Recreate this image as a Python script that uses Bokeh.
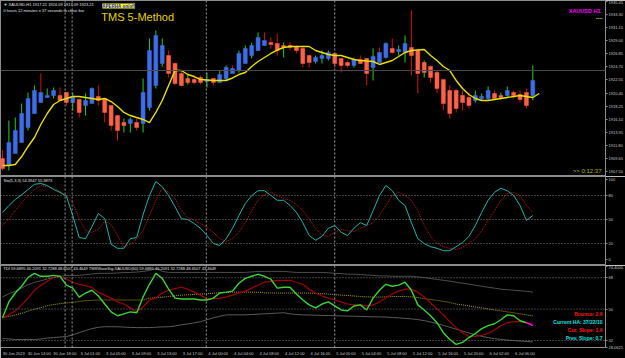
from bokeh.plotting import figure
from bokeh.layouts import column
from bokeh.models import Range1d, FixedTicker, Span, Label, ColumnDataSource
from bokeh.embed import file_html
from bokeh.resources import INLINE

# ---------------- data ----------------
bar_high = [1910.95, 1915.88, 1916.37, 1918.68, 1920.48, 1921.64, 1923.61, 1921.14, 1921.31, 1921.31,
            1920.48, 1920.48, 1919.50, 1920.32, 1921.31, 1921.64, 1919.50, 1918.35, 1916.70, 1916.21,
            1916.37, 1916.21, 1922.79, 1929.36, 1930.68, 1929.36, 1927.39, 1925.42, 1924.10, 1923.44,
            1923.11, 1923.28, 1923.77, 1922.79, 1924.10, 1924.92, 1924.92, 1927.39, 1928.21, 1928.70,
            1930.35, 1930.35, 1929.53, 1930.18, 1928.70, 1928.70, 1928.21, 1928.21, 1926.57, 1926.57,
            1927.39, 1927.39, 1927.06, 1926.07, 1925.75, 1926.24, 1926.57, 1926.07, 1927.72, 1927.88,
            1928.70, 1929.36, 1928.21, 1929.86, 1933.97, 1927.72, 1925.75, 1924.92, 1924.10, 1922.46,
            1921.64, 1921.14, 1920.81, 1920.48, 1920.81, 1920.32, 1921.47, 1920.81, 1920.48, 1921.47,
            1920.81, 1920.81, 1921.14, 1924.92]
bar_low = [1907.66, 1907.66, 1911.44, 1912.26, 1914.24, 1917.03, 1918.84, 1919.66, 1919.50, 1919.50,
           1918.35, 1917.53, 1916.37, 1916.70, 1918.68, 1918.35, 1915.55, 1914.24, 1912.59, 1913.91,
           1913.91, 1914.24, 1913.91, 1917.53, 1921.14, 1924.76, 1922.95, 1921.64, 1921.47, 1921.80,
           1921.80, 1921.80, 1921.31, 1921.64, 1922.13, 1922.46, 1923.77, 1923.77, 1925.25, 1926.07,
           1927.39, 1928.21, 1927.72, 1926.57, 1926.24, 1927.39, 1926.90, 1924.59, 1924.59, 1925.25,
           1925.25, 1925.75, 1924.59, 1923.77, 1924.59, 1924.59, 1925.25, 1921.64, 1922.46, 1925.42,
           1926.07, 1926.90, 1926.57, 1925.42, 1923.28, 1920.32, 1922.95, 1922.13, 1920.32, 1917.53,
           1916.21, 1917.20, 1917.53, 1917.85, 1918.84, 1919.17, 1919.17, 1919.17, 1919.33, 1919.66,
           1919.50, 1918.84, 1917.85, 1919.17]
ha_open = [1909.63, 1908.48, 1910.45, 1912.26, 1914.73, 1917.03, 1918.84, 1919.66, 1919.99, 1919.99,
           1920.48, 1918.84, 1919.33, 1918.35, 1918.68, 1919.83, 1919.50, 1918.35, 1916.70, 1915.55,
           1915.39, 1915.55, 1915.39, 1918.02, 1921.64, 1925.25, 1926.57, 1925.25, 1923.61, 1922.79,
           1922.62, 1922.95, 1922.29, 1922.79, 1922.13, 1922.79, 1923.61, 1924.10, 1925.25, 1926.57,
           1927.39, 1928.21, 1928.70, 1928.54, 1928.21, 1928.21, 1928.05, 1927.72, 1926.57, 1925.58,
           1926.07, 1926.07, 1926.90, 1926.07, 1925.42, 1924.92, 1925.91, 1926.07, 1924.59, 1925.42,
           1926.24, 1927.72, 1927.22, 1927.06, 1927.88, 1927.39, 1925.42, 1924.76, 1923.77, 1922.62,
           1920.81, 1920.81, 1919.99, 1919.66, 1919.17, 1919.50, 1919.50, 1920.32, 1919.99, 1919.99,
           1920.48, 1920.16, 1920.48, 1919.99]
ha_close = [1907.99, 1912.26, 1914.24, 1917.03, 1919.50, 1920.81, 1920.48, 1919.99, 1920.81, 1919.17,
            1918.84, 1919.83, 1917.20, 1919.17, 1921.14, 1919.17, 1917.20, 1915.06, 1914.24, 1915.06,
            1916.05, 1914.73, 1920.48, 1927.39, 1929.86, 1928.21, 1923.61, 1921.96, 1921.64, 1922.13,
            1922.13, 1922.13, 1922.62, 1922.13, 1923.44, 1924.59, 1924.43, 1926.90, 1927.72, 1928.21,
            1929.53, 1929.03, 1928.38, 1927.39, 1927.88, 1927.88, 1927.39, 1925.25, 1925.42, 1926.24,
            1926.57, 1927.06, 1925.25, 1924.92, 1924.92, 1925.91, 1925.25, 1923.61, 1926.40, 1927.06,
            1928.54, 1927.06, 1927.55, 1928.54, 1926.57, 1923.61, 1923.77, 1922.95, 1921.14, 1918.68,
            1917.03, 1917.85, 1918.84, 1918.35, 1919.99, 1919.83, 1920.81, 1919.50, 1919.66, 1920.81,
            1919.99, 1919.33, 1918.35, 1922.46]
wick_up = [0, 1, 1, 1, 1, 1, 0, 1, 1, 0,
           0, 1, 0, 1, 1, 0, 0, 0, 0, 1,
           1, 0, 1, 1, 1, 1, 0, 0, 0, 1,
           0, 0, 1, 0, 1, 1, 0, 1, 1, 1,
           1, 0, 0, 0, 1, 0, 0, 0, 0, 1,
           1, 1, 0, 0, 0, 1, 0, 0, 1, 0,
           1, 0, 1, 1, 0, 0, 1, 0, 0, 0,
           0, 0, 0, 0, 1, 1, 1, 0, 1, 1,
           0, 0, 0, 1]
ma_line = [1908.48, 1908.48, 1908.65, 1909.96, 1911.61, 1913.09, 1915.22, 1917.03, 1918.51, 1919.17,
           1919.50, 1919.83, 1919.83, 1919.66, 1919.50, 1919.33, 1919.50, 1919.00, 1918.18, 1917.20,
           1916.70, 1916.37, 1916.05, 1915.55, 1917.20, 1919.17, 1921.64, 1924.10, 1924.10, 1923.44,
           1923.11, 1922.62, 1922.54, 1922.46, 1922.46, 1922.46, 1922.87, 1923.44, 1923.77, 1924.76,
           1925.58, 1926.24, 1926.90, 1927.47, 1927.88, 1928.05, 1928.05, 1928.05, 1928.05, 1927.39,
           1927.06, 1926.73, 1926.57, 1926.57, 1926.24, 1925.91, 1925.75, 1925.66, 1925.58, 1925.09,
           1925.42, 1925.75, 1926.40, 1927.06, 1927.39, 1927.47, 1927.55, 1926.57, 1925.75, 1924.76,
           1924.10, 1922.46, 1921.14, 1920.16, 1919.50, 1919.17, 1919.17, 1919.33, 1919.50, 1919.66,
           1919.83, 1919.99, 1919.83, 1919.66, 1920.32]
stoch_main = [58.8, 67.5, 75.0, 81.0, 87.5, 94.0, 95.0, 92.5, 87.5, 84.0,
              79.0, 55.0, 27.5, 26.0, 41.0, 57.5, 51.0, 19.0, 14.0, 14.0,
              26.0, 27.5, 56.0, 80.0, 97.5, 91.0, 80.0, 66.0, 51.0, 50.0,
              45.0, 39.0, 30.0, 20.0, 17.5, 26.0, 39.0, 55.0, 70.0, 80.0,
              86.0, 86.0, 80.0, 74.0, 74.0, 67.5, 59.0, 46.0, 30.0, 24.0,
              29.0, 39.0, 42.5, 34.0, 30.0, 39.0, 46.0, 42.5, 61.0, 80.0,
              92.5, 86.0, 74.0, 67.5, 46.0, 26.0, 20.0, 16.0, 14.0, 11.0,
              11.0, 16.0, 21.0, 29.0, 42.5, 59.0, 74.0, 84.0, 89.0, 86.0,
              80.0, 67.5, 49.0, 55.0]
stoch_signal = [42.5, 51.0, 61.0, 71.0, 80.0, 87.5, 92.5, 91.0, 89.0, 85.0,
                80.0, 71.0, 51.0, 36.0, 34.0, 37.5, 47.5, 44.0, 30.0, 16.0,
                19.0, 26.0, 36.0, 55.0, 74.0, 89.0, 84.0, 76.0, 61.0, 52.5,
                49.0, 45.0, 40.0, 34.0, 26.0, 22.5, 26.0, 34.0, 46.0, 61.0,
                74.0, 81.0, 84.0, 80.0, 76.0, 74.0, 69.0, 61.0, 51.0, 39.0,
                30.0, 29.0, 34.0, 37.5, 36.0, 35.0, 39.0, 42.5, 46.0, 55.0,
                67.5, 80.0, 84.0, 80.0, 74.0, 61.0, 42.5, 29.0, 20.0, 16.0,
                14.0, 12.5, 15.0, 20.0, 26.0, 36.0, 49.0, 61.0, 74.0, 82.5,
                84.0, 80.0, 67.5, 59.0]
tdi_rsi = [45.0, 54.1, 59.2, 63.1, 68.2, 70.5, 68.8, 68.8, 69.3, 68.8,
           63.7, 62.0, 56.9, 59.2, 60.8, 57.5, 52.9, 48.4, 46.2, 47.3,
           48.4, 47.9, 56.9, 64.2, 70.5, 67.6, 61.4, 56.3, 55.8, 55.8,
           55.8, 55.2, 55.2, 56.3, 59.2, 59.7, 60.3, 64.8, 67.6, 68.8,
           69.9, 68.8, 67.1, 62.0, 62.5, 62.5, 58.6, 55.2, 52.4, 50.7,
           52.9, 54.1, 51.8, 49.5, 49.0, 51.8, 52.4, 49.5, 56.3, 60.8,
           64.2, 63.1, 63.7, 65.4, 60.8, 52.4, 49.5, 46.2, 42.2, 36.5,
           32.6, 29.8, 30.9, 33.7, 36.0, 38.8, 40.5, 41.6, 43.9, 46.7,
           46.2, 43.3, 42.2, 40.5]
tdi_signal = [45.0, 46.7, 49.0, 52.4, 56.3, 60.8, 63.7, 65.9, 68.2, 68.8,
              67.1, 65.4, 64.2, 63.4, 62.3, 59.7, 58.0, 56.3, 54.1, 52.9,
              50.7, 48.4, 51.2, 55.2, 56.3, 59.2, 60.8, 61.7, 62.5, 61.4,
              59.7, 58.0, 55.8, 56.0, 56.3, 56.9, 58.0, 59.2, 60.3, 62.0,
              63.7, 65.4, 65.9, 66.5, 66.5, 66.5, 65.4, 64.2, 61.4, 59.2,
              57.5, 56.3, 55.2, 54.1, 52.9, 52.4, 52.4, 51.8, 52.4, 54.1,
              56.3, 58.6, 60.3, 61.4, 61.4, 59.7, 56.9, 53.5, 50.1, 46.7,
              42.8, 39.4, 36.5, 34.3, 34.3, 34.9, 36.0, 38.2, 40.5, 42.2,
              42.8, 42.8, 42.2, 41.6]
tdi_base = [45.0, 45.8, 46.6, 47.6, 48.8, 49.9, 50.8, 52.0, 52.6, 53.1,
            53.5, 53.9, 54.4, 54.8, 55.0, 55.2, 55.2, 55.2, 55.2, 55.2,
            55.2, 55.2, 55.2, 56.3, 56.5, 56.8, 57.2, 57.6, 58.0, 58.2,
            58.4, 58.6, 58.8, 59.1, 59.3, 59.5, 59.7, 59.7, 59.7, 59.7,
            59.7, 59.3, 59.2, 59.2, 59.2, 59.2, 59.2, 59.2, 59.2, 59.0,
            58.8, 58.6, 58.3, 58.0, 57.8, 57.5, 57.2, 57.0, 56.9, 56.9,
            57.0, 57.2, 57.2, 57.2, 57.0, 56.6, 56.0, 55.5, 55.0, 54.4,
            53.8, 52.9, 52.4, 51.8, 51.2, 50.7, 50.1, 49.5, 49.0, 48.4,
            47.9, 47.3, 46.7, 46.2]
tdi_upper = [56.9, 58.8, 60.3, 62.0, 64.0, 65.3, 66.2, 67.3, 68.0, 68.7,
             69.3, 69.3, 69.3, 69.7, 70.1, 70.5, 70.5, 70.5, 70.7, 70.9,
             71.0, 71.2, 71.6, 72.1, 73.3, 71.6, 71.0, 71.0, 71.0, 71.0,
             71.0, 71.0, 71.0, 71.0, 71.0, 71.0, 71.0, 71.0, 71.0, 71.3,
             71.6, 71.6, 71.6, 71.6, 71.6, 71.3, 71.0, 71.0, 71.0, 71.0,
             71.0, 70.8, 70.5, 70.3, 70.0, 70.0, 69.8, 69.5, 69.3, 69.0,
             69.0, 68.8, 68.8, 68.8, 68.8, 68.4, 68.0, 67.5, 67.0, 66.5,
             66.0, 65.4, 64.8, 64.3, 63.7, 63.1, 62.5, 62.0, 61.4, 61.1,
             60.8, 60.5, 60.2, 59.7]
tdi_lower = [33.2, 32.9, 32.6, 32.6, 32.6, 32.6, 32.9, 33.4, 33.7, 34.0,
             34.3, 35.2, 36.5, 37.7, 38.8, 39.6, 39.9, 39.9, 39.9, 39.7,
             39.5, 39.4, 39.4, 39.4, 39.6, 39.8, 39.9, 40.3, 41.0, 41.5,
             42.1, 42.8, 43.9, 45.0, 45.9, 46.7, 46.7, 46.7, 46.7, 46.9,
             47.1, 47.3, 47.5, 47.7, 47.9, 47.3, 46.9, 46.7, 46.6, 46.5,
             46.4, 46.3, 46.2, 46.1, 46.0, 45.9, 45.8, 45.7, 45.6, 45.5,
             45.4, 45.2, 45.0, 44.7, 44.4, 44.0, 43.4, 42.6, 41.7, 40.7,
             39.6, 38.5, 37.4, 36.3, 35.3, 34.4, 33.7, 33.1, 32.6, 32.3,
             32.0, 31.7, 31.5, 31.2]
time_labels = ["30 Jun 2023", "30 Jun 14:00", "30 Jun 18:00", "3 Jul 01:00", "3 Jul 05:00",
               "3 Jul 09:00", "3 Jul 13:00", "3 Jul 17:00", "4 Jul 00:00", "4 Jul 04:00",
               "4 Jul 08:00", "4 Jul 12:00", "4 Jul 16:00", "5 Jul 00:00", "5 Jul 04:00",
               "5 Jul 08:00", "5 Jul 12:00", "5 Jul 16:00", "5 Jul 20:00", "6 Jul 02:00",
               "6 Jul 06:00"]
price_ticks = [1907.50, 1909.65, 1911.80, 1913.95, 1916.10, 1918.25, 1920.40, 1922.55,
               1924.70, 1926.85, 1929.00, 1931.15, 1933.30, 1935.45]
stoch_ticks = [0, 20, 50, 80, 100]
tdi_ticks = [28.0621, 32, 50, 68, 74.4]
tdi_tick_text = ["28.0621", "32", "50", "68", "74.4000"]
stoch_levels = [20, 50, 80]
tdi_levels = [32, 50, 68]
separators = [9.8, 10.9, 31.9, 52.0]
bid_price = 1924.10

# ---------------- styling helpers ----------------
FONT = "Liberation Sans"
LBL = "#c8c8c8"
GRAY = "#8c8c8c"
BAR_PX = 6.4

def bx(px):  # screen x -> bar units (for annotation placement)
    return (px - 2) / BAR_PX

xr = Range1d(-2 / BAR_PX, 604 / BAR_PX)

def make_fig(h, yr, with_x=False):
    p = figure(width=625, height=h, x_range=xr, y_range=yr, toolbar_location=None,
               output_backend="svg", y_axis_location="right",
               x_axis_location="below" if with_x else None,
               background_fill_color="black", border_fill_color="black",
               outline_line_color=GRAY, min_border_left=0, min_border_right=19,
               min_border_top=0, min_border_bottom=0)
    p.grid.visible = False
    ax = p.yaxis[0]
    ax.axis_line_color = GRAY
    ax.major_tick_line_color = GRAY
    ax.major_tick_in = 0
    ax.major_tick_out = 2
    ax.minor_tick_line_color = None
    ax.major_label_standoff = 1
    ax.major_label_text_font = FONT
    ax.major_label_text_font_size = "4px"
    ax.major_label_text_color = LBL
    for s in separators:
        p.add_layout(Span(location=s, dimension="height", line_color="#9a9a9a",
                          line_dash="2 2", line_width=1))
    return p

def lab(p, x, y, text, size="4px", color=LBL, align="left", bold=False, bg=None):
    p.add_layout(Label(x=x, y=y, text=text, text_font=FONT, text_font_size=size,
                       text_color=color, text_align=align, text_baseline="middle",
                       text_font_style="bold" if bold else "normal",
                       background_fill_color=bg, x_offset=0, y_offset=0))

n = len(bar_high)
xs = list(range(n))

# ---------------- price pane ----------------
p1 = make_fig(176, Range1d(1935.61 - 0.16441 * 176, 1935.61))
p1.yaxis[0].ticker = FixedTicker(ticks=price_ticks)
p1.yaxis[0].major_label_overrides = {t: f"{t:.2f}" for t in price_ticks}
p1.add_layout(Span(location=bid_price, dimension="width", line_color="#4a4a4a", line_width=1))

src = ColumnDataSource(dict(
    x=xs, high=bar_high, low=bar_low,
    top=[max(o, c) for o, c in zip(ha_open, ha_close)],
    bottom=[min(o, c) for o, c in zip(ha_open, ha_close)],
    wick=["#22d022" if w else "#d41010" for w in wick_up],
    body=["#3d6ee6" if c > o else "#ff6347" for o, c in zip(ha_open, ha_close)],
))
p1.segment(x0="x", y0="low", x1="x", y1="high", line_color="wick", line_width=1, source=src)
p1.vbar(x="x", width=0.62, top="top", bottom="bottom", fill_color="body", line_color="body",
        line_width=0.5, source=src)
p1.line(list(range(len(ma_line))), ma_line, line_color="#e8e000", line_width=1.4)

py = lambda y: 1935.61 - 0.16441 * y
lab(p1, bx(3), py(4), "\u25bc XAUUSD,H1  1917.21 1924.09 1917.09 1923.21", color="#e0e0e0")
lab(p1, bx(3), py(10), "0 hours 12 minutes e 37 seconds to close bar", color="#e0e0e0")
lab(p1, bx(102), py(5.5), "APERHA on/off", size="4.5px", color="#1010ff", bold=True, bg="#ffff00")
lab(p1, bx(101), py(16), "TMS 5-Method", size="11px", color="#e6d200")
lab(p1, bx(601), py(10), "XAUUSD H1", size="5.5px", color="#ff00ff", bold=True, align="right")
lab(p1, bx(603), py(17.5), "----", size="5px", color="#e6e600", bold=True, align="right")
lab(p1, bx(602), py(170), ">> 0:12:37", size="6px", color="#b8b800", align="right")
lab(p1, bx(608), bid_price, f"{bid_price:.2f}", size="4px", color="black", bg="#e8e8e8")

# ---------------- stochastic pane ----------------
p2 = make_fig(89, Range1d(-7.5, 103.75))
p2.yaxis[0].ticker = FixedTicker(ticks=stoch_ticks)
for lv in stoch_levels:
    p2.add_layout(Span(location=lv, dimension="width", line_color="#7a7a7a",
                       line_dash="1 2", line_width=1))
p2.line(xs, stoch_signal, line_color="#c01818", line_dash="1 1", line_width=1)
p2.line(xs, stoch_main, line_color="#20b2aa", line_width=1)
lab(p2, bx(3), 98.5, "Sto(5,3,3) 54.3947 55.3873", color="#e0e0e0")

# ---------------- TDI pane ----------------
p3 = make_fig(93, Range1d(28.0, 74.97), with_x=True)
p3.yaxis[0].ticker = FixedTicker(ticks=tdi_ticks)
p3.yaxis[0].major_label_overrides = dict(zip(tdi_ticks, tdi_tick_text))
for lv in tdi_levels:
    p3.add_layout(Span(location=lv, dimension="width", line_color="#7a7a7a",
                       line_dash="1 2", line_width=1))
p3.line(xs, tdi_upper, line_color="#4e4e4e", line_width=1)
p3.line(xs, tdi_lower, line_color="#5a5a5a", line_width=1)
p3.line(xs, tdi_base, line_color="#b0a000", line_dash="1 1", line_width=1)
p3.line(xs, tdi_signal, line_color="#a00000", line_width=1.2)
p3.line(xs[:-1], tdi_rsi[:-1], line_color="#3ad43a", line_width=1.4)
p3.line(xs[-2:], tdi_rsi[-2:], line_color="#ff00ff", line_width=1.4)

xa = p3.xaxis[0]
tick_pos = [4 * k + 1.75 for k in range(len(time_labels))]
xa.ticker = FixedTicker(ticks=tick_pos)
xa.major_label_overrides = dict(zip(tick_pos, time_labels))
xa.axis_line_color = GRAY
xa.major_tick_line_color = None
xa.minor_tick_line_color = None
xa.major_tick_out = 0
xa.major_tick_in = 0
xa.major_label_standoff = 3
xa.major_label_text_font = FONT
xa.major_label_text_font_size = "4px"
xa.major_label_text_color = LBL

ty = lambda y: 74.4 - (y - 266) * 0.565
lab(p3, bx(3), ty(268), "TDI 59.6895 46.2091 32.7288 48.6507 43.4649   "
    "TMSWaveSig-XAUUSD(60) 59.6895 46.2091 32.7288 48.6507 43.4649", color="#e0e0e0")
lab(p3, bx(603), ty(314), "Bounce: 2.6", size="5px", color="#ff1a1a", bold=True, align="right")
lab(p3, bx(603), ty(322), "Current HA: 37/22/10", size="5px", color="#00e0e0", bold=True, align="right")
lab(p3, bx(603), ty(330), "Cur. Slope: 1.6", size="5px", color="#ff1a1a", bold=True, align="right")
lab(p3, bx(603), ty(338), "Prev. Slope: 0.7", size="5px", color="#00e0e0", bold=True, align="right")

layout = column(p1, p2, p3, spacing=0)
open("out.html", "w").write(file_html(layout, INLINE))
